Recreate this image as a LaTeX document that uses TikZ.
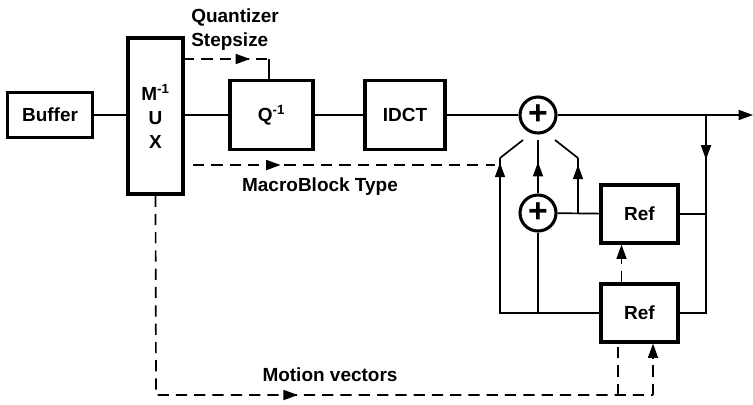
\documentclass[tikz,border=0pt]{standalone}
\usepackage{fontspec}
\setmainfont{Liberation Sans}
\usetikzlibrary{arrows.meta, positioning, decorations.markings}

\begin{document}
\begin{tikzpicture}[x=0.025cm, y=-0.025cm,
        font=\fontsize{13.5}{17}\selectfont\bfseries,
        >={Triangle[length=0.36cm, width=0.25cm]},
        line/.style={line width=1.2pt},
        ctrl/.style={line width=1.2pt, dash pattern=on 8pt off 5pt},
        box/.style={draw, line width=2.2pt, align=center, inner sep=0pt},
        adder/.style={draw, circle, line width=2.2pt, minimum size=0.9cm, inner sep=0pt,
                      font=\fontsize{24}{24}\selectfont\bfseries},
        midarrow/.style={postaction={decorate, decoration={markings,
                    mark=at position #1 with {\arrow{>}}}}}]
      \useasboundingbox (0,0) rectangle (753,404);
      % blocks on the main path
      \node[box, minimum width=2.125cm, minimum height=1.125cm] (buffer) at (50,115) {Buffer};
      \node[box, minimum width=1.375cm, minimum height=3.9cm] (mux) at (155.5,116)
            {M\textsuperscript{-1}\\U\\X};
      \node[box, minimum width=2.075cm, minimum height=1.725cm] (quant) at (271.5,115)
            {Q\textsuperscript{-1}};
      \node[box, minimum width=2cm, minimum height=1.725cm] (idct) at (405,115) {IDCT};
      \node[adder] (sumtop) at (538,115) {+};
      \node[adder] (sumbot) at (538,213) {+};
      \node[box, minimum width=1.925cm, minimum height=1.45cm] (reftop) at (639.5,214) {Ref};
      \node[box, minimum width=1.925cm, minimum height=1.45cm] (refbot) at (639.5,313) {Ref};
      % helper points
      \coordinate (out) at (753,115);
      \coordinate (tap) at (706,115);
      \coordinate (tapmid) at (706,214);
      \coordinate (swleft) at (500,158);
      \coordinate (bladeleft) at (523,140);
      \coordinate (swmid) at (538,140);
      \coordinate (swright) at (578,158);
      \coordinate (bladeright) at (555,140);
      \coordinate (sumjoin) at (578,213);
      \coordinate (qsrc) at (183,59);
      \coordinate (qtop) at (269,59);
      \coordinate (mbsrc) at (193,165);
      \coordinate (mbend) at (495,165);
      \coordinate (mvcorner) at (156,395);
      \coordinate (mvleft) at (618,395);
      \coordinate (mvtop) at (618,346);
      \coordinate (mvright) at (653,395);
      % main signal path
      \draw[line] (buffer) -- (buffer -| mux.west);
      \draw[line] (mux.east |- quant) -- (quant);
      \draw[line] (quant) -- (idct);
      \draw[line] (idct) -- (sumtop);
      \draw[line, ->] (sumtop) -- (out);
      \draw[line, midarrow=0.45] (tap) -- (tapmid);
      \draw[line] (reftop) -- (tapmid);
      \draw[line] (refbot.east) -| (tapmid);
      % prediction switch
      \draw[line, midarrow=-0.12cm] (refbot.west) -| (swleft);
      \draw[line] (swleft) -- (bladeleft);
      \draw[line] (sumbot.south) -- (sumbot.south |- refbot);
      \draw[line, midarrow=-0.55cm] (sumbot.north) -- (swmid);
      \draw[line] (sumbot) -- (reftop);
      \draw[line, midarrow=-0.17cm] (sumjoin) -- (swright);
      \draw[line] (swright) -- (bladeright);
      \draw[ctrl, ->] ([xshift=-0.45cm]refbot.north) -- ([xshift=-0.45cm]reftop.south);
      % side information
      \draw[ctrl, midarrow=0.78] (qsrc) -- (qtop);
      \draw[line] (qtop) -- (qtop |- quant.north);
      \node[anchor=west, align=left, inner sep=0pt] (qlabel) at (191,30)
            {Quantizer\\Stepsize};
      \draw[ctrl, midarrow=0.29] (mbsrc) -- (mbend);
      \node (mblabel) at (320,187) {MacroBlock Type};
      \draw[ctrl, midarrow=0.49] (mux.south) -- (mvcorner) -- (mvright);
      \draw[ctrl, ->] (mvright) -- (mvright |- refbot.south);
      \draw[ctrl] (mvleft) -- (mvtop);
      \node (mvlabel) at (330,375) {Motion vectors};
\end{tikzpicture}
\end{document}
